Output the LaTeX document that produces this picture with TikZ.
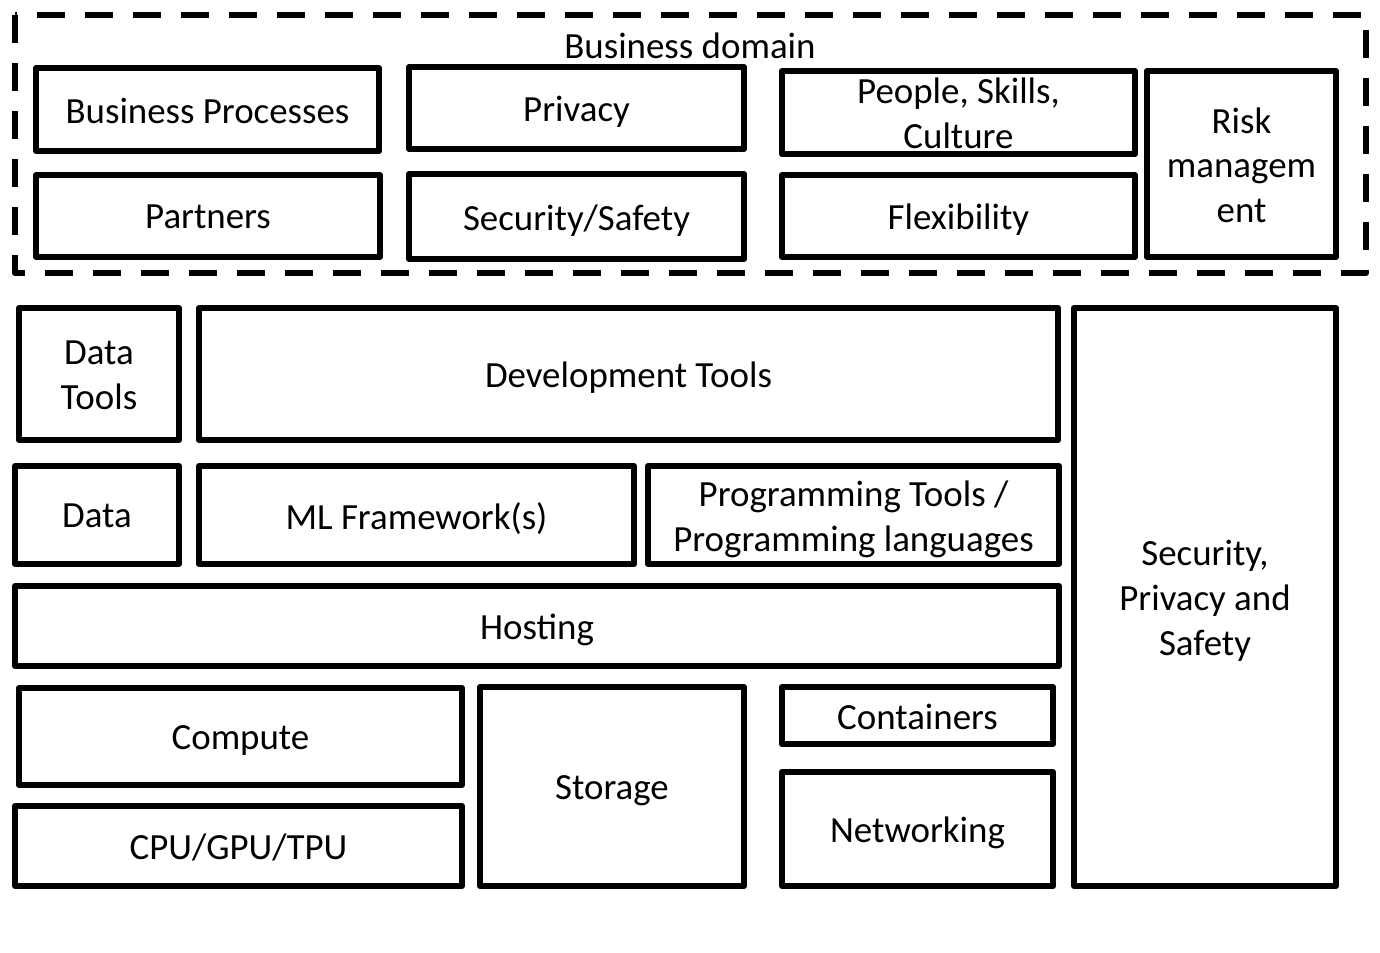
\documentclass[tikz,border=0pt]{standalone}
\usepackage{fontspec}
\setmainfont{Carlito}
\usepackage{tikz}

\tikzset{
	blk/.style={line width=1.2mm, line join=round},
	dom/.style={line width=1.2mm, line join=round, dash pattern=on 5.6mm off 4mm},
	lbl/.style={align=center, inner sep=0pt, text depth=0.22em, font=\fontsize{21}{25.5}\selectfont}
}

% box: name, x1, y1, x2, y2, text
\newcommand{\blkbox}[6]{%
	\draw[blk] (#2,#3) rectangle (#4,#5);
	\node[lbl] (#1) at ({(#2+#4)/2},{(#3+#5)/2+3}) {#6};}

\begin{document}
\begin{tikzpicture}[x=0.2mm, y=-0.2mm]

	\useasboundingbox (0,0) rectangle (1380,953);

	% business domain
	\draw[dom] (15,15) rectangle (1366,273);
	\node[lbl] (domain) at (690,48) {Business domain};

	\blkbox{busproc}{36}{68}{379}{151}{Business Processes}
	\blkbox{partners}{36}{175}{380}{257}{Partners}
	\blkbox{privacy}{409}{67}{744}{149}{Privacy}
	\blkbox{secsafe}{409}{174}{744}{259}{Security/Safety}
	\blkbox{people}{782}{71}{1135}{154}{People, Skills,\\Culture}
	\blkbox{flex}{782}{175}{1135}{257}{Flexibility}
	\blkbox{risk}{1147}{71}{1336}{257}{Risk\\managem\\ent}

	% stack
	\blkbox{datatools}{19}{308}{179}{440}{Data\\Tools}
	\blkbox{devtools}{199}{308}{1058}{440}{Development Tools}
	\blkbox{data}{15}{466}{179}{564}{Data}
	\blkbox{mlfw}{199}{466}{634}{564}{ML Framework(s)}
	\blkbox{progtools}{648}{466}{1059}{564}{Programming Tools /\\Programming languages}
	\blkbox{hosting}{15}{586}{1059}{666}{Hosting}
	\blkbox{compute}{19}{688}{462}{785}{Compute}
	\blkbox{cpu}{15}{806}{462}{886}{CPU/GPU/TPU}
	\blkbox{storage}{480}{687}{744}{886}{Storage}
	\blkbox{containers}{782}{687}{1053}{744}{Containers}
	\blkbox{networking}{782}{772}{1053}{886}{Networking}
	\blkbox{secpriv}{1074}{308}{1336}{886}{Security,\\Privacy and\\Safety}

\end{tikzpicture}
\end{document}
